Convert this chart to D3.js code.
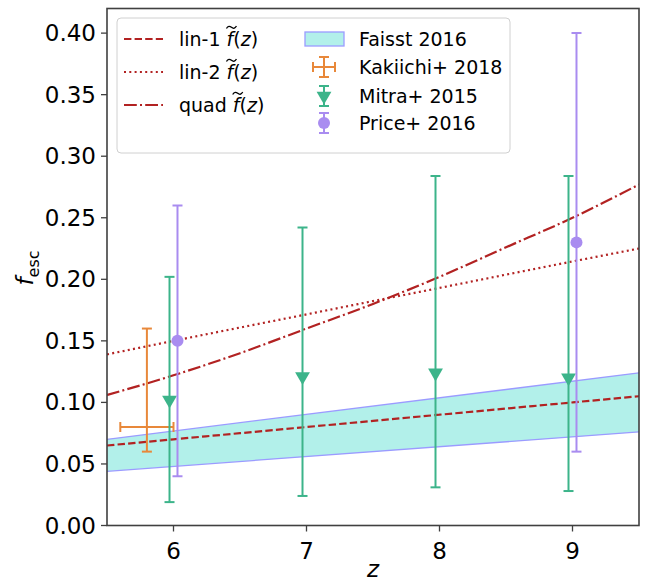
<!DOCTYPE html>
<html><head><meta charset="utf-8">
<script src="https://cdn.jsdelivr.net/npm/d3@7/dist/d3.min.js"></script>
<style>body{margin:0;background:#fff;} text{font-family:"DejaVu Sans",sans-serif;}</style>
</head><body>
<svg id="c" width="646" height="584"></svg>
<script>
// ---- data ----
const curveZ = [5.5, 6.0, 6.5, 7.0, 7.5, 8.0, 8.5, 9.0, 9.5];
const lin1 = [0.065, 0.070, 0.075, 0.080, 0.085, 0.090, 0.095, 0.100, 0.105];
const lin2 = [0.139, 0.150, 0.1608, 0.1715, 0.1823, 0.193, 0.2038, 0.2145, 0.225];
const quad = [0.106, 0.122, 0.140, 0.160, 0.180, 0.202, 0.226, 0.250, 0.277];
const faisstZ = [5.5, 9.5];
const faisstLow = [0.044, 0.076];
const faisstHigh = [0.070, 0.124];
const mitraZ = [5.97, 6.97, 7.97, 8.97];
const mitraF = [0.102, 0.121, 0.124, 0.120];
const mitraLo = [0.019, 0.024, 0.031, 0.028];
const mitraHi = [0.202, 0.242, 0.284, 0.284];
const priceZ = [6.03, 9.03];
const priceF = [0.150, 0.230];
const priceLo = [0.040, 0.060];
const priceHi = [0.260, 0.400];
const kakZ = [5.8], kakZlo = [5.6], kakZhi = [6.0];
const kakF = [0.08], kakFlo = [0.06], kakFhi = [0.16];
const xTicks = [6, 7, 8, 9];
const yTicks = [0, 0.05, 0.10, 0.15, 0.20, 0.25, 0.30, 0.35, 0.40];

// ---- setup ----
const svg = d3.select("#c");
const L = 107, R = 639, T = 8.5, B = 525.5;
const x = d3.scaleLinear().domain([5.5, 9.5]).range([L, R]);
const y = d3.scaleLinear().domain([0, 0.42]).range([B, T]);
const red = "#b22222", green = "#3cb48a", orange = "#e8883a", purple = "#a98cf0";
const fillC = "#b2f0ea", edgeC = "#9b9bff";

const g = svg.append("g");
g.append("defs").append("clipPath").attr("id","clip").append("rect")
  .attr("x",L).attr("y",T).attr("width",R-L).attr("height",B-T);
const plot = g.append("g").attr("clip-path","url(#clip)");

// Faisst band
const band = faisstZ.map((z,i)=>({z, lo:faisstLow[i], hi:faisstHigh[i]}));
plot.append("path").datum(band)
  .attr("d", d3.area().x(d=>x(d.z)).y0(d=>y(d.lo)).y1(d=>y(d.hi)))
  .attr("fill", fillC).attr("stroke","none");
[faisstLow, faisstHigh].forEach(arr=>{
  plot.append("path").datum(faisstZ.map((z,i)=>[z,arr[i]]))
    .attr("d", d3.line().x(d=>x(d[0])).y(d=>y(d[1])))
    .attr("fill","none").attr("stroke",edgeC).attr("stroke-width",1.3);
});

// curves
const curves = [[lin1,"7.4,3.2"],[lin2,"2,3.3"],[quad,"12.8,3.2,2,3.2"]];
curves.forEach(([arr,dash])=>{
  plot.append("path").datum(curveZ.map((z,i)=>[z,arr[i]]))
    .attr("d", d3.line().curve(d3.curveMonotoneX).x(d=>x(d[0])).y(d=>y(d[1])))
    .attr("fill","none").attr("stroke",red).attr("stroke-width",2.2).attr("stroke-dasharray",dash);
});

function vErr(sel, px, py0, py1, color, cap){
  sel.append("line").attr("x1",px).attr("x2",px).attr("y1",py0).attr("y2",py1)
    .attr("stroke",color).attr("stroke-width",2);
  [py0,py1].forEach(p=>sel.append("line").attr("x1",px-cap).attr("x2",px+cap).attr("y1",p).attr("y2",p)
    .attr("stroke",color).attr("stroke-width",2));
}
function hErr(sel, px0, px1, py, color, cap){
  sel.append("line").attr("x1",px0).attr("x2",px1).attr("y1",py).attr("y2",py)
    .attr("stroke",color).attr("stroke-width",2);
  [px0,px1].forEach(p=>sel.append("line").attr("y1",py-cap).attr("y2",py+cap).attr("x1",p).attr("x2",p)
    .attr("stroke",color).attr("stroke-width",2));
}
const tri = d3.symbol().type(d3.symbolTriangle).size(95);

// Kakiichi
kakZ.forEach((z,i)=>{
  vErr(plot, x(z), y(kakFhi[i]), y(kakFlo[i]), orange, 5);
  hErr(plot, x(kakZlo[i]), x(kakZhi[i]), y(kakF[i]), orange, 5);
});
// Mitra
mitraZ.forEach((z,i)=>{
  vErr(plot, x(z), y(mitraHi[i]), y(mitraLo[i]), green, 5);
  plot.append("path").attr("d", tri()).attr("fill",green)
    .attr("transform",`translate(${x(z)},${y(mitraF[i])}) rotate(180)`);
});
// Price
priceZ.forEach((z,i)=>{
  vErr(plot, x(z), y(priceHi[i]), y(priceLo[i]), purple, 5);
  plot.append("circle").attr("cx",x(z)).attr("cy",y(priceF[i])).attr("r",6).attr("fill",purple);
});

// axes
const spine = "#404040";
g.append("rect").attr("x",L).attr("y",T).attr("width",R-L).attr("height",B-T)
  .attr("fill","none").attr("stroke",spine).attr("stroke-width",1.6);
xTicks.forEach(t=>{
  g.append("line").attr("x1",x(t)).attr("x2",x(t)).attr("y1",B).attr("y2",B+6).attr("stroke",spine).attr("stroke-width",1.3);
  g.append("text").attr("x",x(t)).attr("y",B+33).attr("text-anchor","middle").attr("font-size",23).attr("fill","#000").text(t);
});
yTicks.forEach(t=>{
  g.append("line").attr("x1",L-6).attr("x2",L).attr("y1",y(t)).attr("y2",y(t)).attr("stroke",spine).attr("stroke-width",1.3);
  g.append("text").attr("x",L-11).attr("y",y(t)+8).attr("text-anchor","end").attr("font-size",23).attr("fill","#000").text(d3.format(".2f")(t));
});
// labels
g.append("text").attr("x",x(7.5)).attr("y",577).attr("text-anchor","middle").attr("font-size",23)
  .attr("font-style","italic").text("z");
const yl = g.append("text").attr("transform","translate(33,268) rotate(-90)").attr("text-anchor","middle").attr("font-size",23);
yl.append("tspan").attr("font-style","italic").text("f");
yl.append("tspan").attr("font-size",16).attr("dy",6).text("esc");

// legend
const lg = g.append("g");
lg.append("rect").attr("x",117).attr("y",18).attr("width",393).attr("height",135).attr("rx",4)
  .attr("fill","#fff").attr("fill-opacity",0.8).attr("stroke","#d0d0d0").attr("stroke-width",1);
const col1 = [["lin-1","7.4,3.2",39],["lin-2","2,3.3",72],["quad","12.8,3.2,2,3.2",105]];
col1.forEach(([name,dash,cy])=>{
  lg.append("line").attr("x1",124).attr("x2",163).attr("y1",cy).attr("y2",cy)
    .attr("stroke",red).attr("stroke-width",2.2).attr("stroke-dasharray",dash);
  const t = lg.append("text").attr("x",179).attr("y",cy+7).attr("font-size",19);
  t.append("tspan").text(name+" ");
  const fs = t.append("tspan").attr("font-style","italic").text("f");
  t.append("tspan").text("(");
  t.append("tspan").attr("font-style","italic").text("z");
  t.append("tspan").text(")");
  // tilde accent over f drawn as a small path
  const ext = t.node().getExtentOfChar(name.length + 1);
  const a = ext.x + ext.width/2 - 3.5, b = cy - 12;
  lg.append("path")
    .attr("d", `M${a},${b+1.5} C${a+1.5},${b-1.5} ${a+3.5},${b-1} ${a+5},${b+0.3} S${a+8.5},${b+2} ${a+10},${b-1}`)
    .attr("fill","none").attr("stroke","#000").attr("stroke-width",1.3);
});
const lx = 324;
lg.append("rect").attr("x",305).attr("y",32).attr("width",39).attr("height",14)
  .attr("fill",fillC).attr("stroke",edgeC).attr("stroke-width",1.3);
vErr(lg, lx, 57, 77, orange, 5); hErr(lg, 313, 335, 67, orange, 5);
vErr(lg, lx, 86, 106, green, 5);
lg.append("path").attr("d",tri()).attr("fill",green).attr("transform",`translate(${lx},96) rotate(180)`);
vErr(lg, lx, 113, 133, purple, 5);
lg.append("circle").attr("cx",lx).attr("cy",123).attr("r",6).attr("fill",purple);
[["Faisst 2016",39],["Kakiichi+ 2018",67],["Mitra+ 2015",96],["Price+ 2016",123]].forEach(([s,cy])=>{
  lg.append("text").attr("x",359).attr("y",cy+7).attr("font-size",19).text(s);
});
</script>
</body></html>
